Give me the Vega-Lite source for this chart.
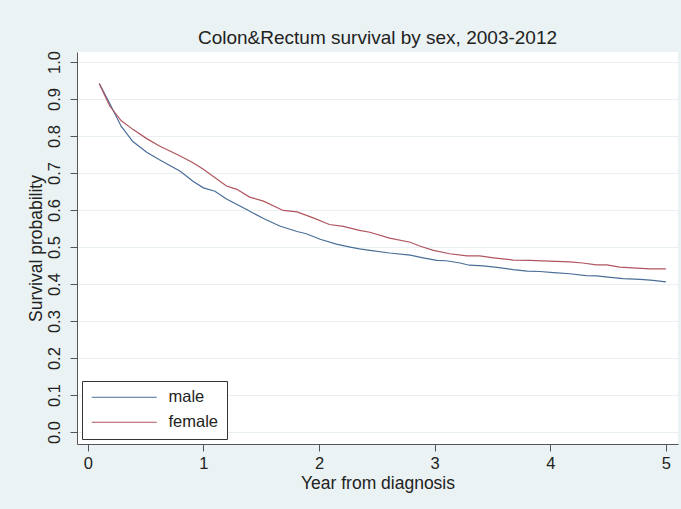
{
  "$schema": "https://vega.github.io/schema/vega-lite/v6.json",
  "width": 601,
  "height": 392,
  "autosize": "none",
  "padding": {"left": 77, "top": 52, "right": 3, "bottom": 65},
  "background": "#EAF2F3",
  "title": {
    "text": "Colon&Rectum survival by sex, 2003-2012",
    "font": "Liberation Sans",
    "fontSize": 19,
    "fontWeight": "normal",
    "color": "#222222",
    "anchor": "middle",
    "offset": 3
  },
  "config": {
    "view": {"fill": "white", "stroke": null},
    "axis": {
      "labelFont": "Liberation Sans",
      "titleFont": "Liberation Sans",
      "labelFontSize": 16.5,
      "titleFontSize": 17.5,
      "titleFontWeight": "normal",
      "labelColor": "#222222",
      "titleColor": "#222222",
      "domainColor": "#555555",
      "tickColor": "#555555",
      "tickSize": 7,
      "domainWidth": 1,
      "tickWidth": 1
    }
  },
  "data": {
    "values": [
      {"t": 0.1, "s": 0.942, "sex": "male"},
      {"t": 0.19, "s": 0.888, "sex": "male"},
      {"t": 0.29, "s": 0.826, "sex": "male"},
      {"t": 0.39, "s": 0.785, "sex": "male"},
      {"t": 0.51, "s": 0.756, "sex": "male"},
      {"t": 0.62, "s": 0.736, "sex": "male"},
      {"t": 0.8, "s": 0.705, "sex": "male"},
      {"t": 0.91, "s": 0.678, "sex": "male"},
      {"t": 1.0, "s": 0.66, "sex": "male"},
      {"t": 1.1, "s": 0.651, "sex": "male"},
      {"t": 1.2, "s": 0.63, "sex": "male"},
      {"t": 1.37, "s": 0.602, "sex": "male"},
      {"t": 1.52, "s": 0.577, "sex": "male"},
      {"t": 1.66, "s": 0.557, "sex": "male"},
      {"t": 1.81, "s": 0.542, "sex": "male"},
      {"t": 1.89, "s": 0.536, "sex": "male"},
      {"t": 2.01, "s": 0.521, "sex": "male"},
      {"t": 2.15, "s": 0.508, "sex": "male"},
      {"t": 2.27, "s": 0.5, "sex": "male"},
      {"t": 2.35, "s": 0.495, "sex": "male"},
      {"t": 2.44, "s": 0.491, "sex": "male"},
      {"t": 2.61, "s": 0.484, "sex": "male"},
      {"t": 2.79, "s": 0.478, "sex": "male"},
      {"t": 2.9, "s": 0.471, "sex": "male"},
      {"t": 3.02, "s": 0.464, "sex": "male"},
      {"t": 3.1, "s": 0.463, "sex": "male"},
      {"t": 3.22, "s": 0.457, "sex": "male"},
      {"t": 3.3, "s": 0.451, "sex": "male"},
      {"t": 3.42, "s": 0.449, "sex": "male"},
      {"t": 3.54, "s": 0.445, "sex": "male"},
      {"t": 3.68, "s": 0.439, "sex": "male"},
      {"t": 3.8, "s": 0.435, "sex": "male"},
      {"t": 3.91, "s": 0.434, "sex": "male"},
      {"t": 4.03, "s": 0.431, "sex": "male"},
      {"t": 4.17, "s": 0.428, "sex": "male"},
      {"t": 4.31, "s": 0.423, "sex": "male"},
      {"t": 4.4, "s": 0.422, "sex": "male"},
      {"t": 4.52, "s": 0.418, "sex": "male"},
      {"t": 4.63, "s": 0.415, "sex": "male"},
      {"t": 4.78, "s": 0.413, "sex": "male"},
      {"t": 4.89, "s": 0.41, "sex": "male"},
      {"t": 5.0, "s": 0.406, "sex": "male"},
      {"t": 0.1, "s": 0.941, "sex": "female"},
      {"t": 0.19, "s": 0.881, "sex": "female"},
      {"t": 0.29, "s": 0.841, "sex": "female"},
      {"t": 0.39, "s": 0.818, "sex": "female"},
      {"t": 0.51, "s": 0.793, "sex": "female"},
      {"t": 0.62, "s": 0.773, "sex": "female"},
      {"t": 0.8, "s": 0.746, "sex": "female"},
      {"t": 0.91, "s": 0.728, "sex": "female"},
      {"t": 1.0, "s": 0.71, "sex": "female"},
      {"t": 1.08, "s": 0.692, "sex": "female"},
      {"t": 1.2, "s": 0.665, "sex": "female"},
      {"t": 1.29, "s": 0.656, "sex": "female"},
      {"t": 1.4, "s": 0.635, "sex": "female"},
      {"t": 1.52, "s": 0.624, "sex": "female"},
      {"t": 1.69, "s": 0.599, "sex": "female"},
      {"t": 1.81, "s": 0.595, "sex": "female"},
      {"t": 1.95, "s": 0.579, "sex": "female"},
      {"t": 2.09, "s": 0.561, "sex": "female"},
      {"t": 2.21, "s": 0.556, "sex": "female"},
      {"t": 2.35, "s": 0.545, "sex": "female"},
      {"t": 2.44, "s": 0.54, "sex": "female"},
      {"t": 2.61, "s": 0.524, "sex": "female"},
      {"t": 2.79, "s": 0.513, "sex": "female"},
      {"t": 2.87, "s": 0.503, "sex": "female"},
      {"t": 2.99, "s": 0.491, "sex": "female"},
      {"t": 3.13, "s": 0.482, "sex": "female"},
      {"t": 3.28, "s": 0.476, "sex": "female"},
      {"t": 3.39, "s": 0.476, "sex": "female"},
      {"t": 3.51, "s": 0.471, "sex": "female"},
      {"t": 3.68, "s": 0.465, "sex": "female"},
      {"t": 3.82, "s": 0.464, "sex": "female"},
      {"t": 3.99, "s": 0.462, "sex": "female"},
      {"t": 4.17, "s": 0.46, "sex": "female"},
      {"t": 4.28, "s": 0.457, "sex": "female"},
      {"t": 4.4, "s": 0.452, "sex": "female"},
      {"t": 4.49, "s": 0.452, "sex": "female"},
      {"t": 4.6, "s": 0.446, "sex": "female"},
      {"t": 4.75, "s": 0.443, "sex": "female"},
      {"t": 4.86, "s": 0.441, "sex": "female"},
      {"t": 5.0, "s": 0.441, "sex": "female"}
    ]
  },
  "mark": {"type": "line", "strokeWidth": 1.2, "interpolate": "linear"},
  "encoding": {
    "x": {
      "field": "t",
      "type": "quantitative",
      "scale": {"domain": [-0.093, 5.105], "nice": false, "zero": false},
      "axis": {
        "title": "Year from diagnosis",
        "values": [0, 1, 2, 3, 4, 5],
        "format": "d",
        "grid": false,
        "labelPadding": 4,
        "titlePadding": 3
      }
    },
    "y": {
      "field": "s",
      "type": "quantitative",
      "scale": {"domain": [-0.032, 1.027], "nice": false, "zero": false},
      "axis": {
        "title": "Survival probability",
        "values": [0, 0.1, 0.2, 0.3, 0.4, 0.5, 0.6, 0.7, 0.8, 0.9, 1.0],
        "format": ".1f",
        "labelAngle": -90,
        "labelAlign": "center",
        "labelBaseline": "bottom",
        "labelPadding": 8,
        "titlePadding": 1,
        "grid": true,
        "gridColor": "#E8F0F2",
        "gridWidth": 1.2
      }
    },
    "color": {
      "field": "sex",
      "type": "nominal",
      "sort": ["male", "female"],
      "scale": {"domain": ["male", "female"], "range": ["#4A6E98", "#B0555E"]},
      "legend": {
        "title": null,
        "orient": "bottom-left",
        "offset": 5,
        "fillColor": "white",
        "strokeColor": "#333333",
        "padding": 8,
        "symbolType": "M-1,0H9",
        "symbolSize": 169,
        "symbolStrokeWidth": 1.2,
        "labelFont": "Liberation Sans",
        "labelFontSize": 16.5,
        "labelColor": "#222222",
        "labelOffset": 62,
        "rowPadding": 8
      }
    }
  }
}
